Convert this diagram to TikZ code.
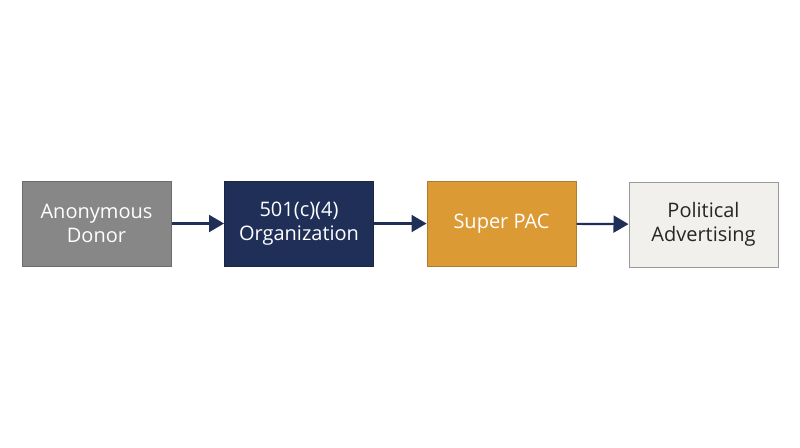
\documentclass[tikz,border=0pt]{standalone}
\usepackage{fontspec}
\setmainfont{Open Sans}
\usetikzlibrary{arrows.meta}
\definecolor{donorgray}{HTML}{878787}
\definecolor{navy}{HTML}{1F2F57}
\definecolor{pacorange}{HTML}{DC9A35}
\definecolor{adlight}{HTML}{F1F0EC}
\begin{document}
\begin{tikzpicture}[x=1pt,y=-1pt,
  box/.style={minimum width=149pt,minimum height=85pt,inner sep=0pt,align=center,
    font=\fontsize{20}{24}\selectfont,line width=1pt},
  flow/.style={draw=navy,line width=2.2pt,-{Triangle[length=15pt,width=17pt]}}]
\fill[white] (0,0) rectangle (800,447);
\useasboundingbox (0,0) rectangle (800,447);
\node[box,fill=donorgray,draw=donorgray!80!black,text=white] (a) at (96.5,223.5) {Anonymous\\Donor};
\node[box,fill=navy,draw=navy!80!black,text=white] (b) at (299,223.5) {501(c)(4)\\Organization};
\node[box,fill=pacorange,draw=pacorange!80!black,text=white] (c) at (501.5,223.5) {Super PAC};
\node[box,fill=adlight,draw=gray!80,text=black!85] (d) at (703.5,224.5) {Political\\Advertising};
\draw[flow] (a) -- (b);
\draw[flow] (b) -- (c);
\draw[flow] (c) -- (d);
\end{tikzpicture}
\end{document}
